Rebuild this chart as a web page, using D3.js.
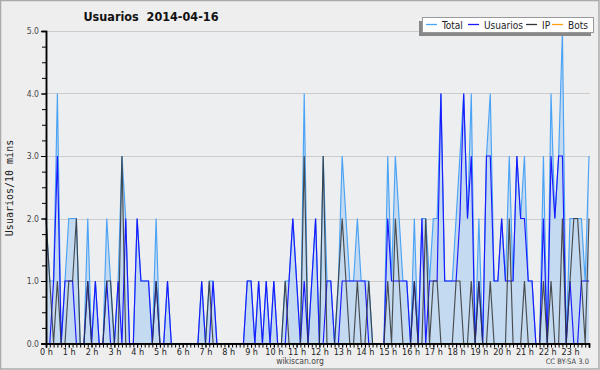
<!DOCTYPE html>
<html>
<head>
<meta charset="utf-8">
<script src="https://cdn.jsdelivr.net/npm/d3@7"></script>
<style>
  body { margin: 0; background: #fff; }
  svg { display: block; }
  text { font-family: "DejaVu Sans Condensed", "DejaVu Sans", sans-serif; font-stretch: condensed; }
</style>
</head>
<body>
<svg width="600" height="370"></svg>
<script>
const title = "Usuarios  2014-04-16";
const yTitle = "Usuarios/10 mins";
const seriesNames = ["Total", "Usuarios", "IP", "Bots"];
const seriesColors = ["#4aa3f5", "#1a1aff", "#333333", "#ffa010"];
const hourLabels = d3.range(24).map(h => h + " h");
const yTicks = [0, 1, 2, 3, 4, 5];

// one value per 10 minutes, 144 per day
const usuarios = [
  0,0,1,3,0,1,1,1,0,0,0,1,0,1,0,0,1,0,0,1,0,2,0,0,
  2,1,1,1,0,1,0,0,1,0,0,0,0,0,0,0,0,1,0,0,1,0,0,0,
  0,0,0,0,0,1,1,0,1,0,1,0,1,0,0,0,1,2,1,0,1,0,1,2,
  0,0,1,1,0,0,1,1,1,1,1,1,1,0,0,0,0,0,2,1,1,1,1,1,
  0,1,0,2,0,1,1,1,4,1,1,1,1,2,4,2,3,0,1,0,3,3,1,1,
  2,1,1,1,3,2,2,1,1,0,0,2,0,3,2,3,3,0,1,0,0,1,1,1
];
const ip = [
  2,1,0,1,0,0,1,1,2,0,0,1,0,0,0,0,1,1,0,0,3,0,0,0,
  0,0,0,0,0,1,0,0,0,0,0,0,0,0,0,0,0,0,0,1,0,0,0,0,
  0,0,0,0,0,0,0,0,0,0,0,0,0,0,0,1,0,0,0,0,3,0,0,0,
  0,3,0,0,0,1,2,1,0,0,1,0,0,1,0,0,0,0,1,0,2,1,0,0,
  0,1,0,0,2,0,1,1,0,0,0,0,1,1,0,0,1,0,1,0,0,1,0,0,
  0,0,2,0,0,0,1,0,0,0,0,1,0,1,0,0,2,0,1,2,2,1,0,2
];
const total = [
  2,1,1,4,0,1,2,2,2,0,0,2,0,1,0,0,2,1,0,1,3,2,0,0,
  2,1,1,1,0,2,0,0,1,0,0,0,0,0,0,0,0,1,0,1,1,0,0,0,
  0,0,0,0,0,1,1,0,1,0,1,0,1,0,0,1,1,2,1,0,4,0,1,2,
  0,3,1,1,0,1,3,2,1,1,2,1,1,1,0,0,0,0,3,1,3,2,1,1,
  0,2,0,2,2,1,2,2,4,1,1,1,2,3,4,2,4,0,2,0,3,4,1,1,
  2,1,3,1,3,2,3,1,1,0,0,3,0,4,2,3,5,0,2,2,2,2,1,3
];
const bots = new Array(144).fill(0);

const svg = d3.select("svg");
const W = 600, H = 370;
const margin = {left: 46, right: 11, top: 31, bottom: 26.5};

svg.append("rect").attr("x", 0.5).attr("y", 0.5).attr("width", W - 1.5).attr("height", H - 1.5)
  .attr("fill", "#eeeeee").attr("stroke", "#aaaaaa").attr("stroke-width", 1.5);

const x = d3.scaleLinear().domain([0, 143]).range([margin.left, W - margin.right]);
const y = d3.scaleLinear().domain([0, 5]).range([H - margin.bottom, margin.top]);

svg.append("rect")
  .attr("x", x(0)).attr("y", y(5))
  .attr("width", x(143) - x(0)).attr("height", y(0) - y(5))
  .attr("fill", "#edeef0");

// grid
svg.append("g").selectAll("line")
  .data(yTicks.slice(1))
  .join("line")
  .attr("x1", x(0)).attr("x2", x(143) + 1)
  .attr("y1", d => Math.round(y(d)) + 0.5).attr("y2", d => Math.round(y(d)) + 0.5)
  .attr("stroke", "#cccccc");

const idx = d3.range(144);

const area = d3.area()
  .x(i => x(i)).y0(y(0)).y1(i => y(total[i]));
svg.append("path").attr("d", area(idx))
  .attr("fill", "#a8cdf0").attr("fill-opacity", 0.6);

const line = arr => d3.line().x(i => x(i)).y(i => y(arr[i]))(idx);

const plotLines = [
  {data: total, color: seriesColors[0], op: 1},
  {data: bots, color: seriesColors[3], op: 1},
  {data: usuarios, color: seriesColors[1], op: 1},
  {data: ip, color: seriesColors[2], op: 0.85}
];
plotLines.forEach(s => {
  svg.append("path").attr("d", line(s.data))
    .attr("fill", "none").attr("stroke", s.color)
    .attr("stroke-width", 1.15).attr("stroke-opacity", s.op)
    .attr("stroke-linejoin", "miter");
});

// y axis
const yMinor = svg.append("g").attr("transform", `translate(${x(0)},0)`)
  .call(d3.axisLeft(y).tickValues(d3.range(0, 5.01, 0.25)).tickSize(4).tickFormat(""));
const yMajor = svg.append("g").attr("transform", `translate(${x(0)},0)`)
  .call(d3.axisLeft(y).tickValues(yTicks).tickSize(5).tickPadding(2).tickFormat(d3.format(".1f")));
[yMinor, yMajor].forEach(g => {
  g.selectAll("line").attr("stroke", "#000");
  g.select(".domain").attr("stroke", "#000").attr("stroke-width", 1.5);
});
yMajor.selectAll("text").attr("font-size", 8.5).attr("fill", "#444")
  .attr("font-family", "DejaVu Sans Condensed, DejaVu Sans");

// x axis
const xMinor = svg.append("g").attr("transform", `translate(0,${y(0)})`)
  .call(d3.axisBottom(x).tickValues(idx).tickSize(4).tickFormat(""));
const xMajor = svg.append("g").attr("transform", `translate(0,${y(0)})`)
  .call(d3.axisBottom(x).tickValues(d3.range(0, 144, 6)).tickSize(4).tickPadding(1)
    .tickFormat(d => hourLabels[d / 6]));
[xMinor, xMajor].forEach(g => {
  g.selectAll("line").attr("stroke", "#000");
  g.select(".domain").attr("stroke", "#000").attr("stroke-width", 1.5);
});
xMajor.selectAll("text").attr("font-size", 9).attr("fill", "#222")
  .attr("font-family", "DejaVu Sans Condensed, DejaVu Sans");

// titles
svg.append("text").attr("x", 151).attr("y", 21)
  .attr("text-anchor", "middle").attr("font-size", 12.5).attr("font-weight", "bold")
  .attr("fill", "#111").attr("xml:space", "preserve").style("white-space", "pre")
  .text(title);

svg.append("text")
  .attr("transform", "translate(13,188) rotate(-90)")
  .attr("text-anchor", "middle")
  .style("font-family", "DejaVu Sans Mono, monospace").style("font-stretch", "normal")
  .attr("font-size", 10).attr("fill", "#222")
  .text(yTitle);

svg.append("text").attr("x", 300).attr("y", 364).attr("text-anchor", "middle")
  .attr("font-size", 8.5).attr("fill", "#444").text("wikiscan.org");
svg.append("text").attr("x", 589).attr("y", 364).attr("text-anchor", "end")
  .attr("font-size", 7.5).attr("fill", "#444").text("CC BY-SA 3.0");

// legend
const lg = svg.append("g");
lg.append("rect").attr("x", 419).attr("y", 21).attr("width", 172).attr("height", 15).attr("fill", "#888");
lg.append("rect").attr("x", 422.5).attr("y", 17.5).attr("width", 171).attr("height", 15)
  .attr("fill", "#fff").attr("stroke", "#999");
const legendX = [426, 468, 526, 552];
seriesNames.forEach((n, i) => {
  lg.append("line").attr("x1", legendX[i]).attr("x2", legendX[i] + 11)
    .attr("y1", 24.5).attr("y2", 24.5).attr("stroke", seriesColors[i]).attr("stroke-width", 1.3);
  lg.append("text").attr("x", legendX[i] + 16).attr("y", 28.5)
    .attr("font-size", 10).attr("fill", "#222").text(n);
});
</script>
</body>
</html>
